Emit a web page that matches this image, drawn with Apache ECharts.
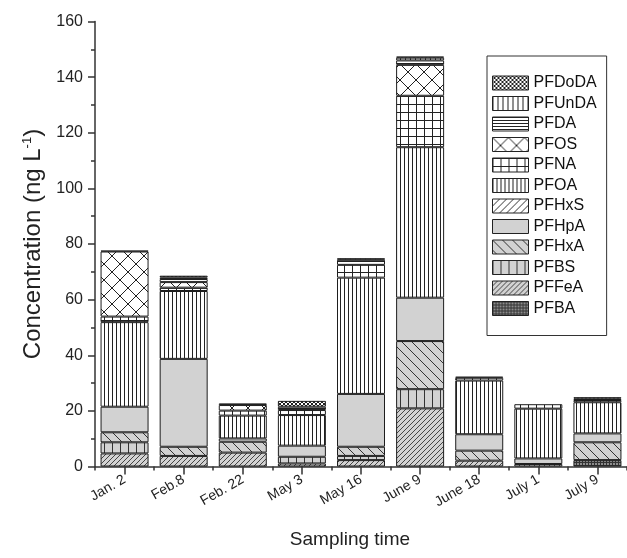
<!DOCTYPE html>
<html><head><meta charset="utf-8">
<script src="https://cdn.jsdelivr.net/npm/echarts@6/dist/echarts.min.js"></script>
<style>html,body{margin:0;padding:0;background:#fff}#c{width:627px;height:558px}</style>
</head><body><div id="c"></div>
<script>
// ---- data ----
const categories = ['Jan. 2', 'Feb.8', 'Feb. 22', 'May 3', 'May 16', 'June 9', 'June 18', 'July 1', 'July 9'];
const PFBA   = [0,    0,    0,   0,    0,    0,    0,    0,    2.3];
const PFFeA  = [4.7,  3.8,  5.0, 1.1,  2.3,  20.9, 2.1,  0.9,  0];
const PFBS   = [4.0,  0,    0,   2.4,  1.5,  6.9,  0,    0,    0];
const PFHxA  = [3.6,  3.3,  3.9, 0,    3.3,  17.3, 3.6,  0,    6.4];
const PFHpA  = [9.2,  31.6, 1.2, 4.0,  19.0, 15.6, 5.9,  2.0,  3.2];
const PFHxS  = [0,    0,    0,   0,    0,    0,    0,    0,    0];
const PFOA   = [30.4, 24.4, 8.2, 11.0, 41.8, 54.1, 19.3, 17.9, 11.2];
const PFNA   = [2.0,  1.2,  1.8, 1.8,  4.6,  18.5, 1.0,  1.6,  0.8];
const PFOS   = [23.4, 2.0,  2.0, 0,    0,    11.1, 0,    0,    0];
const PFDA   = [0,    1.1,  0.6, 1.2,  1.8,  1.6,  0.4,  0,    0.5];
const PFUnDA = [0,    0.6,  0,   0,    0.6,  1.0,  0,    0,    0];
const PFDoDA = [0.3,  0.6,  0,   2.1,  0,    0.4,  0,    0,    0.5];
const yTicks = [0, 20, 40, 60, 80, 100, 120, 140, 160];

// ---- patterns ----
function pat(w, h, bg, draw, stroke) {
  const c = document.createElement('canvas'); c.width = w; c.height = h;
  const g = c.getContext('2d');
  g.fillStyle = bg; g.fillRect(0, 0, w, h);
  g.strokeStyle = stroke || '#2a2a2a'; g.lineWidth = 1;
  g.beginPath(); draw(g, w, h); g.stroke();
  return { image: c, repeat: 'repeat' };
}
const GRAY = '#d2d2d2';
const slash = (g, w, h) => { for (const o of [-w, 0, w]) { g.moveTo(o, h); g.lineTo(o + w, 0); } };
const back = (g, w, h) => { for (const o of [-w, 0, w]) { g.moveTo(o, 0); g.lineTo(o + w, h); } };
const vert = (g, w, h) => { g.moveTo(0.5, 0); g.lineTo(0.5, h); };
const horz = (g, w, h) => { g.moveTo(0, 0.5); g.lineTo(w, 0.5); };
const grid = (g, w, h) => { vert(g, w, h); horz(g, w, h); };
const cross = (g, w, h) => { slash(g, w, h); back(g, w, h); };

const styles = {
  PFBA:   pat(3, 3, '#8c8c8c', grid, '#333'),
  PFFeA:  pat(5, 5, GRAY, slash, '#444'),
  PFBS:   pat(8, 8, GRAY, vert, '#333'),
  PFHxA:  pat(10, 10, GRAY, back, '#333'),
  PFHpA:  GRAY,
  PFHxS:  pat(7, 7, '#fff', slash, '#333'),
  PFOA:   pat(4, 4, '#fff', vert, '#222'),
  PFNA:   pat(8, 8, '#fff', grid, '#222'),
  PFOS:   pat(16, 16, '#fff', cross, '#222'),
  PFDA:   pat(3, 3, '#fff', horz, '#222'),
  PFUnDA: pat(5, 5, '#fff', vert, '#222'),
  PFDoDA: pat(4, 4, '#fff', cross, '#222')
};

const stackOrder = ['PFBA','PFFeA','PFBS','PFHxA','PFHpA','PFHxS','PFOA','PFNA','PFOS','PFDA','PFUnDA','PFDoDA'];
const dataMap = {PFBA, PFFeA, PFBS, PFHxA, PFHpA, PFHxS, PFOA, PFNA, PFOS, PFDA, PFUnDA, PFDoDA};
const FONT = "'Liberation Sans', Arial, sans-serif";

const series = stackOrder.map(name => ({
  name, type: 'bar', stack: 'all', barWidth: 48,
  xAxisIndex: 0, yAxisIndex: 0,
  data: dataMap[name].map(v => v === 0 ? null : v),
  itemStyle: { color: styles[name], borderColor: '#1e1e1e', borderWidth: 1 },
  emphasis: { disabled: true },
  animation: false
}));

const chart = echarts.init(document.getElementById('c'), null, { renderer: 'canvas' });
chart.setOption({
  animation: false,
  backgroundColor: '#fff',
  grid: [
    { left: 95, right: 0, top: 21.5, bottom: 91.5 },
    { left: 95, right: 0, top: 21.5, bottom: 91.5 }
  ],
  legend: {
    orient: 'vertical', left: 487, top: 56,
    padding: [19, 10, 19, 5], itemGap: 4.5,
    itemWidth: 36, itemHeight: 14, icon: 'rect',
    borderColor: '#333', borderWidth: 1,
    data: stackOrder.slice().reverse(),
    itemStyle: { borderColor: '#222', borderWidth: 1 },
    textStyle: { fontSize: 16, color: '#111', fontFamily: FONT }
  },
  xAxis: [
    {
      type: 'category', gridIndex: 0, data: categories,
      axisLine: { lineStyle: { color: '#333', width: 1.5 } },
      axisTick: { show: true, alignWithLabel: true, length: 8, lineStyle: { color: '#333', width: 1.5 } },
      axisLabel: { rotate: 30, fontSize: 14, color: '#222', fontFamily: FONT, margin: 12, interval: 0 },
      name: 'Sampling time', nameLocation: 'middle', nameGap: 64,
      nameTextStyle: { fontSize: 19, color: '#222', fontFamily: FONT, padding: [0, 22, 0, 0] }
    },
    {
      type: 'category', gridIndex: 1, data: categories,
      axisLine: { show: false },
      axisTick: { show: true, alignWithLabel: false, length: 4, interval: 0, lineStyle: { color: '#333', width: 1.5 } },
      axisLabel: { show: false }
    }
  ],
  yAxis: [
    {
      type: 'value', gridIndex: 0, min: yTicks[0], max: yTicks[yTicks.length - 1], interval: 20,
      axisLine: { show: true, lineStyle: { color: '#333', width: 1.5 } },
      axisTick: { show: true, length: 7, lineStyle: { color: '#333', width: 1.5 } },
      minorTick: { show: true, splitNumber: 2, length: 4, lineStyle: { color: '#333', width: 1.5 } },
      splitLine: { show: false },
      axisLabel: { fontSize: 16, color: '#222', fontFamily: FONT, margin: 12 },
      name: '{a|Concentration (ng L}{s|-1}{a|)}', nameLocation: 'middle', nameGap: 32,
      nameTextStyle: {
        fontFamily: FONT, color: '#222',
        rich: {
          a: { fontSize: 24, fontFamily: FONT, color: '#222' },
          s: { fontSize: 13, fontFamily: FONT, color: '#222', padding: [0, 0, 12, 0] }
        }
      }
    },
    { type: 'value', gridIndex: 1, show: false, min: 0, max: 160 }
  ],
  series
});
</script>
</body></html>
